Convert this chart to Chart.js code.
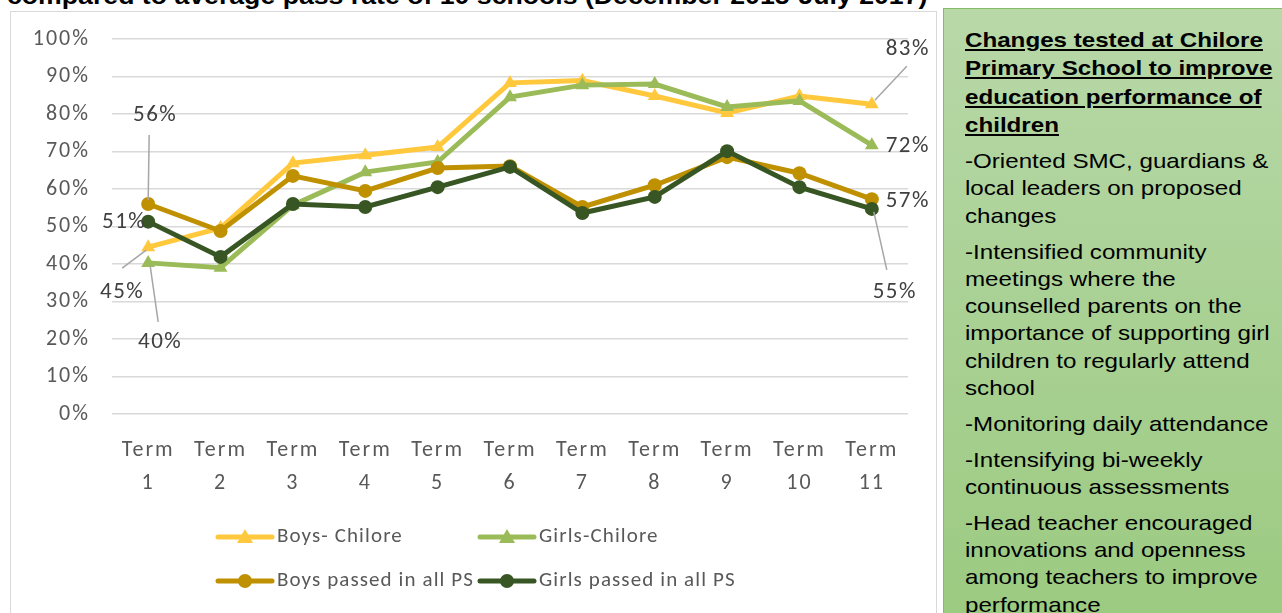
<!DOCTYPE html>
<html>
<head>
<meta charset="utf-8">
<script src="https://cdn.jsdelivr.net/npm/chart.js@4/dist/chart.umd.min.js"></script>
<style>
  body { margin: 0; width: 1282px; height: 613px; overflow: hidden; position: relative; background: #fff; font-family: "Liberation Sans", Arial, sans-serif; }
  #title { position: absolute; left: 7px; top: -15.5px; font-size: 23.4px; line-height: 23.4px; font-weight: bold; white-space: nowrap; color: #000;
           transform: scaleX(1.14); transform-origin: 0 0; }
  #box { position: absolute; left: 10px; top: 11px; width: 925px; height: 610px; border: 1px solid #d9d9d9; }
  #box canvas { display: block; }
  #panel { position: absolute; left: 943px; top: 8px; width: 345px; height: 620px; box-sizing: border-box; border: 1px solid #86ba66;
           background: linear-gradient(#b8d8a8, #9bca80); padding: 17px 0 0 21px; color: #000; }
  #panel .txt { width: 268px; transform: scaleX(1.15); transform-origin: 0 0; }
  #panel h3 { margin: 0 0 8px 0; font-size: 21px; line-height: 28.3px; font-weight: bold; text-decoration: underline; }
  #panel p { margin: 0 0 8.5px 0; font-size: 21px; line-height: 27.3px; }
</style>
</head>
<body>
<div id="title">compared to average pass rate of 10 schools (December 2015-July 2017)</div>
<div id="box"><canvas id="c" width="925" height="601"></canvas></div>
<div id="panel"><div class="txt">
  <h3>Changes tested at Chilore Primary School to improve education performance of children</h3>
  <p>-Oriented SMC, guardians &amp; local leaders on proposed changes</p>
  <p>-Intensified community meetings where the counselled parents on the importance of supporting girl children to regularly attend school</p>
  <p>-Monitoring daily attendance</p>
  <p>-Intensifying bi-weekly continuous assessments</p>
  <p>-Head teacher encouraged innovations and openness among teachers to improve performance</p>
</div></div>
<script>
const terms = [["Term", "1"], ["Term", "2"], ["Term", "3"], ["Term", "4"], ["Term", "5"], ["Term", "6"],
               ["Term", "7"], ["Term", "8"], ["Term", "9"], ["Term", "10"], ["Term", "11"]];
const boysChilore  = [44.5, 49.6, 66.9, 69.0, 71.2, 88.3, 88.9, 84.8, 80.3, 84.8, 82.6];
const girlsChilore = [40.3, 39.0, 55.7, 64.5, 67.2, 84.5, 87.7, 88.0, 81.9, 83.5, 71.7];
const boysAllPS    = [56.0, 48.8, 63.5, 59.5, 65.6, 66.1, 55.2, 61.0, 68.5, 64.2, 57.3];
const girlsAllPS   = [51.3, 41.9, 56.0, 55.2, 60.5, 65.9, 53.6, 57.9, 70.1, 60.5, 54.7];
const yTicks = [0, 10, 20, 30, 40, 50, 60, 70, 80, 90, 100];

const FONT = '"Carlito", "Open Sans", sans-serif';

// end labels: [datasetIndex, pointIndex, dx, dy, leader (relative to point) or null]
const endLabels = [
  [0, 0, -26, 45, [-26, 21, -2, 3]],
  [1, 0, 12, 79, [2, 3, 10, 59]],
  [2, 0, 7, -89, [1, -69, 0, -4]],
  [3, 0, -24, 1, null],
  [0, 10, 36, -55, [35, -38, 3, -4]],
  [1, 10, 36, 1, null],
  [2, 10, 36, 2, null],
  [3, 10, 23, 83, [2, 3, 15, 61]]
];

// widen the axis text a little, like the stretched original
const spacingPlugin = {
  id: 'spacing',
  beforeDraw(chart) { chart.ctx.letterSpacing = '2px'; }
};

const labelPlugin = {
  id: 'endLabels',
  afterDatasetsDraw(chart) {
    const ctx = chart.ctx;
    ctx.save();
    ctx.letterSpacing = '1.5px';
    ctx.font = '23px ' + FONT;
    ctx.fillStyle = '#404040';
    ctx.textAlign = 'center';
    ctx.textBaseline = 'middle';
    ctx.strokeStyle = '#a6a6a6';
    ctx.lineWidth = 1.5;
    endLabels.forEach(([d, i, dx, dy, lead]) => {
      const pt = chart.getDatasetMeta(d).data[i];
      const v = chart.data.datasets[d].data[i];
      if (lead) {
        ctx.beginPath();
        ctx.moveTo(pt.x + lead[0], pt.y + lead[1]);
        ctx.lineTo(pt.x + lead[2], pt.y + lead[3]);
        ctx.stroke();
      }
      ctx.fillText(Math.round(v) + '%', pt.x + dx, pt.y + dy);
    });
    ctx.restore();
  }
};

const legendPlugin = {
  id: 'gridLegend',
  afterDraw(chart) {
    const ctx = chart.ctx;
    const a = chart.chartArea;
    ctx.save();
    ctx.letterSpacing = '1.1px';
    ctx.font = '21px ' + FONT;
    ctx.textBaseline = 'middle';
    ctx.textAlign = 'left';
    chart.data.datasets.forEach((ds, k) => {
      const x = a.left + 106 + (k % 2) * 262;
      const y = a.bottom + 123 + Math.floor(k / 2) * 44;
      ctx.strokeStyle = ds.borderColor;
      ctx.lineWidth = 5;
      ctx.lineCap = 'round';
      ctx.beginPath();
      ctx.moveTo(x, y);
      ctx.lineTo(x + 54, y);
      ctx.stroke();
      ctx.fillStyle = ds.borderColor;
      ctx.beginPath();
      if (ds.pointStyle === 'triangle') {
        ctx.moveTo(x + 27, y - 8);
        ctx.lineTo(x + 35, y + 6);
        ctx.lineTo(x + 19, y + 6);
        ctx.closePath();
      } else {
        ctx.arc(x + 27, y, 7, 0, Math.PI * 2);
      }
      ctx.fill();
      ctx.fillStyle = '#595959';
      ctx.fillText(ds.label, x + 59, y);
    });
    ctx.restore();
  }
};

function series(label, data, color, style, order) {
  return {
    label, data, order,
    borderColor: color, backgroundColor: color,
    borderWidth: 5, pointStyle: style,
    pointRadius: style === 'triangle' ? 8 : 7,
    pointBorderWidth: 0, tension: 0
  };
}

new Chart(document.getElementById('c'), {
  type: 'line',
  data: {
    labels: terms,
    datasets: [
      series('Boys- Chilore', boysChilore, '#ffc83d', 'triangle', 4),
      series('Girls-Chilore', girlsChilore, '#9bbb59', 'triangle', 3),
      series('Boys passed in all PS', boysAllPS, '#bf9000', 'circle', 2),
      series('Girls passed in all PS', girlsAllPS, '#375623', 'circle', 1)
    ]
  },
  options: {
    responsive: false,
    animation: false,
    layout: { padding: { top: 27, right: 28, left: 0, bottom: 0 } },
    plugins: { legend: { display: false }, tooltip: { enabled: false } },
    scales: {
      x: {
        offset: true,
        grid: { display: false },
        border: { display: false },
        ticks: { color: '#595959', font: { family: FONT, size: 22, lineHeight: 1.5 }, padding: 12, maxRotation: 0 },
        afterFit(s) { s.height = 199; }
      },
      y: {
        min: 0, max: 100,
        afterBuildTicks(s) { s.ticks = yTicks.map(v => ({ value: v })); },
        grid: { color: '#d9d9d9', lineWidth: 1.5, drawTicks: false },
        border: { display: false },
        ticks: { color: '#595959', font: { family: FONT, size: 22 }, padding: 22, callback: v => v + '%' },
        afterFit(s) { s.width = 101; s.paddingTop = 0; s.paddingBottom = 0; }
      }
    }
  },
  plugins: [spacingPlugin, labelPlugin, legendPlugin]
});
</script>
</body>
</html>
